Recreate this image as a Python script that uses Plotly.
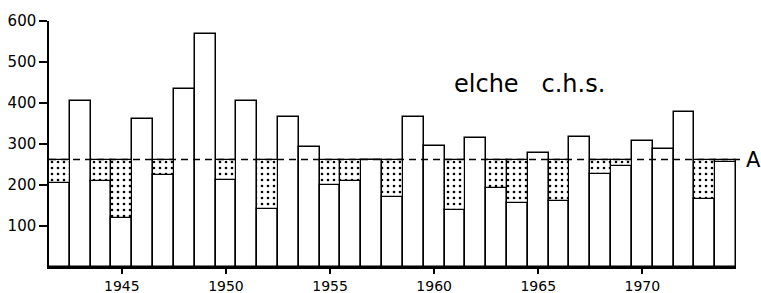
import plotly.graph_objects as go

years = list(range(1942, 1975))
values = [204, 404, 209, 119, 361, 224, 433, 569, 212, 404,
          141, 366, 293, 200, 210, 262, 170, 366, 296, 138, 314, 192,
          157, 277, 162, 316, 226, 246, 308, 287, 379, 167, 257]
average_A = 262
y_ticks = [100, 200, 300, 400, 500, 600]
x_ticks = [1945, 1950, 1955, 1960, 1965, 1970]

deficit_base = [v if v < average_A else None for v in values]
deficit_len = [average_A - v if v < average_A else None for v in values]

fig = go.Figure()
fig.add_trace(go.Bar(
    x=years, y=values, width=1,
    marker=dict(color="white", line=dict(color="black", width=1.5)),
    showlegend=False, hoverinfo="x+y",
))
fig.add_trace(go.Bar(
    x=years, y=deficit_len, base=deficit_base, width=1,
    marker=dict(color="white", line=dict(color="black", width=1.2),
                pattern=dict(shape=".", size=6, solidity=0.15,
                             fgcolor="black", bgcolor="white", fillmode="replace")),
    showlegend=False, hoverinfo="skip",
))

fig.add_shape(type="line", xref="paper", yref="y",
              x0=0, x1=1.012, y0=average_A, y1=average_A,
              line=dict(color="black", width=1.5, dash="7px,5px"))

fig.add_annotation(x=1.0, y=average_A, xref="paper", yref="y", xshift=8,
                   text="A", showarrow=False, xanchor="left", yanchor="middle",
                   font=dict(family="DejaVu Sans", size=21, color="black"))
fig.add_annotation(x=0.70, y=0.745, xref="paper", yref="paper",
                   text="elche   c.h.s.", showarrow=False, xanchor="center",
                   yanchor="middle",
                   font=dict(family="DejaVu Sans", size=24, color="black"))

fig.update_layout(
    width=761, height=293,
    margin=dict(l=49, r=25, t=21, b=26),
    paper_bgcolor="white", plot_bgcolor="white",
    barmode="overlay", bargap=0,
    font=dict(family="DejaVu Sans", size=15, color="black"),
)
fig.update_xaxes(range=[years[0] - 0.5, years[-1] + 0.5],
                 tickvals=x_ticks, ticktext=[str(t) for t in x_ticks],
                 tickfont=dict(size=14),
                 ticks="outside", ticklen=5, tickwidth=1.5, tickcolor="black",
                 showline=True, linecolor="black", linewidth=1.5,
                 showgrid=False, zeroline=False, automargin=False)
fig.update_yaxes(range=[0, 600],
                 tickvals=y_ticks, ticktext=[str(t) for t in y_ticks],
                 ticks="outside", ticklen=8, tickwidth=1.5, tickcolor="black",
                 showline=True, linecolor="black", linewidth=1.5,
                 showgrid=False, zeroline=False, automargin=False)

fig.write_html("out.html", config={"displayModeBar": False},
               post_script="document.body.style.margin='0';document.body.style.overflow='hidden';")
